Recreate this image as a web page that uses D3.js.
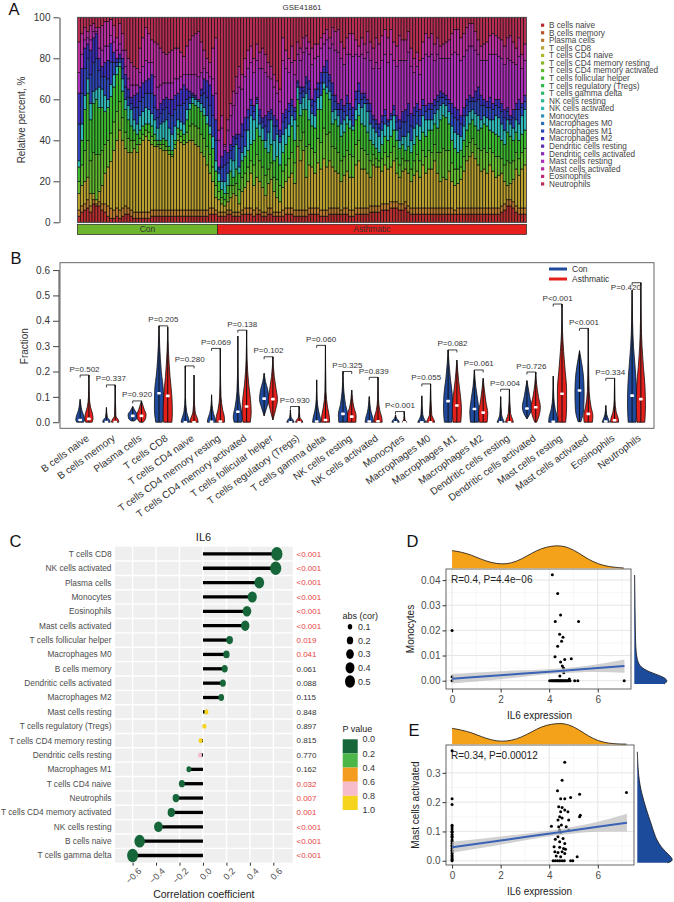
<!DOCTYPE html>
<html>
<head>
<meta charset="utf-8">
<script src="https://cdn.jsdelivr.net/npm/d3@7"></script>
<style>
  body { margin: 0; background: #fff; }
  svg { display: block; font-family: "Liberation Sans", Arial, Helvetica, sans-serif; }
</style>
</head>
<body>
<svg id="fig" width="674" height="902"></svg>
<script>
// ---------------- data ----------------
const cellTypes = ["B cells naive", "B cells memory", "Plasma cells", "T cells CD8", "T cells CD4 naive",
  "T cells CD4 memory resting", "T cells CD4 memory activated", "T cells follicular helper",
  "T cells regulatory (Tregs)", "T cells gamma delta", "NK cells resting", "NK cells activated",
  "Monocytes", "Macrophages M0", "Macrophages M1", "Macrophages M2", "Dendritic cells resting",
  "Dendritic cells activated", "Mast cells resting", "Mast cells activated", "Eosinophils", "Neutrophils"];

// cell types that carry visible share in the stacked bars (order = stack order)
const stackTypes = ["B cells naive", "Plasma cells", "T cells CD8", "T cells CD4 memory activated",
  "T cells follicular helper", "NK cells activated", "Macrophages M1", "Macrophages M2",
  "Mast cells resting", "Mast cells activated", "Neutrophils"];

// percent per sample, columns follow stackTypes
const conFractions = [
  [3,3,8,6,7,3,18,15,10,15,12], [5,3,10,10,12,8,15,12,7,10,8], [6,3,11,15,20,7,13,10,4,6,5], [7,4,11,18,23,7,10,7,3,3,7],
  [5,3,6,16,20,8,14,12,5,7,4], [9,2,3,20,24,6,14,12,3,4,3], [8,1,2,22,27,5,15,12,1,2,5], [8,2,5,18,23,10,8,6,5,10,5],
  [6,3,9,17,21,9,6,5,8,12,4], [5,4,15,14,16,8,9,7,8,12,2], [3,5,19,13,16,4,10,9,7,12,2], [2,5,23,14,18,6,11,9,4,8,1],
  [2,4,29,14,17,6,6,5,5,8,4], [3,4,33,14,18,4,2,2,4,6,10], [2,4,39,14,17,2,2,2,5,10,3], [3,4,33,11,13,6,5,5,4,8,8],
  [4,4,28,8,11,5,6,6,4,8,16], [4,3,27,7,9,7,4,4,5,10,20], [3,3,28,6,7,8,3,3,6,11,22], [2,3,31,4,5,5,6,6,5,9,24],
  [2,3,29,4,5,5,8,7,4,8,25], [2,3,33,3,4,7,7,7,7,12,15], [2,3,35,3,4,7,7,7,8,14,10], [2,3,37,3,3,8,7,6,10,16,5],
  [2,3,35,4,4,7,8,7,8,14,8], [3,3,32,4,5,6,10,9,6,11,11], [3,3,31,3,3,7,6,6,9,17,12], [3,3,31,1,2,6,5,4,11,21,13],
  [3,3,30,2,2,8,5,5,9,18,15], [3,3,29,3,3,8,6,5,8,15,17], [3,3,29,2,3,10,6,5,7,14,18], [3,3,27,2,2,9,7,7,8,15,17],
  [3,3,26,1,2,8,9,8,8,16,16], [3,3,30,2,2,7,8,7,8,15,15], [3,3,34,3,3,4,7,6,7,15,15], [3,3,33,3,3,4,8,8,6,12,17],
  [3,3,32,2,3,5,10,9,5,9,19], [3,3,33,5,6,5,5,5,7,14,14], [3,3,34,7,8,3,3,3,8,17,11], [3,3,34,8,10,3,1,1,9,19,9],
  [3,3,32,9,10,3,1,1,10,20,8], [3,3,31,9,10,3,1,0,11,22,7], [3,3,28,9,11,4,4,3,8,15,12], [3,3,26,9,11,4,7,7,5,9,16],
  [3,3,22,9,11,4,9,8,4,7,20], [4,3,17,9,10,4,10,10,4,7,22], [4,3,13,7,9,6,10,10,8,15,15], [4,2,6,6,7,5,10,10,13,27,10]
];
const asthmaFractions = [
  [3,2,6,4,5,4,2,1,13,5,55], [3,2,4,3,4,4,7,5,14,6,48], [3,2,3,3,3,6,8,7,2,1,62], [4,2,4,4,4,6,5,5,11,5,50],
  [4,2,6,6,7,6,4,3,14,6,42], [3,2,9,4,4,8,7,5,15,7,36], [3,2,8,6,7,12,3,2,20,8,29], [3,2,4,7,8,3,9,7,23,10,24],
  [4,2,9,7,8,4,8,6,17,7,28], [4,3,10,7,8,5,8,6,20,9,20], [4,3,13,7,8,10,6,4,20,9,16], [4,3,17,6,8,14,5,3,18,8,14],
  [3,3,12,10,12,10,4,3,16,7,20], [4,3,15,11,13,12,2,1,18,8,13], [4,2,14,10,12,6,4,3,20,8,17], [3,2,12,10,13,6,3,2,24,10,15],
  [3,2,8,10,13,4,7,5,21,9,18], [4,3,12,7,8,10,6,4,17,7,22], [4,3,14,8,9,12,3,2,15,6,24], [3,2,10,7,8,10,7,5,14,6,28],
  [3,2,7,9,11,11,4,3,13,6,31], [3,2,5,8,10,11,3,3,14,6,35], [3,3,11,8,9,9,6,4,26,11,10], [4,3,13,8,10,8,5,4,20,9,16],
  [4,3,15,9,11,6,6,4,15,7,20], [4,3,17,10,13,5,5,3,18,8,14], [3,3,13,10,11,10,4,2,16,7,21], [3,3,31,10,13,6,2,1,13,6,12],
  [3,3,24,10,12,6,5,3,13,6,15], [3,3,29,9,11,6,3,2,17,7,10], [3,3,16,15,18,8,5,3,14,6,9], [4,3,21,10,12,10,5,4,13,6,12],
  [4,3,20,9,11,6,4,3,17,8,15], [4,3,17,10,12,6,7,6,15,7,13], [4,3,22,12,14,6,4,3,13,6,13], [3,3,20,13,16,7,6,5,12,5,10],
  [3,3,25,15,19,3,5,3,11,5,8], [3,3,21,16,20,3,7,6,10,5,6], [4,3,23,14,16,4,5,3,13,5,10], [4,3,20,10,11,6,8,6,19,8,5],
  [4,3,18,11,14,5,4,3,22,9,7], [4,3,17,10,13,5,3,3,25,11,6], [4,2,14,10,12,6,7,5,20,8,12], [4,3,16,9,12,6,4,3,20,8,15],
  [4,3,18,10,13,4,6,4,20,8,10], [3,3,16,11,13,4,5,3,24,10,8], [3,3,16,10,13,2,5,4,25,11,8], [4,3,21,10,12,5,5,4,18,7,11],
  [4,3,23,10,12,6,6,4,13,5,14], [4,3,19,10,12,8,4,3,19,8,10], [4,3,19,9,12,11,3,2,17,7,13], [4,3,17,9,11,10,4,2,23,10,7],
  [5,3,14,8,10,8,6,4,21,9,12], [5,3,20,5,5,8,4,2,23,10,15], [5,3,19,4,5,8,4,2,28,12,10], [5,3,19,3,4,8,4,2,27,12,13],
  [6,3,16,6,7,7,4,3,27,12,9], [6,3,19,6,8,6,4,3,27,12,6], [6,3,17,6,8,7,2,1,28,12,10], [7,3,17,7,8,8,2,1,29,12,6],
  [7,3,20,7,8,7,3,2,22,9,12], [7,3,14,7,9,5,4,3,24,10,14], [6,3,13,6,8,4,6,4,29,12,9], [6,3,16,6,7,4,7,5,25,10,11],
  [7,3,16,4,5,7,7,6,24,10,11], [5,3,16,6,7,7,8,6,25,10,7], [4,3,13,6,8,6,7,6,23,9,15], [4,3,16,7,8,8,6,4,17,7,20],
  [4,3,18,8,9,6,6,4,18,7,17], [4,3,15,8,10,7,5,3,17,7,21], [4,3,21,7,9,8,5,3,20,8,12], [4,3,17,8,10,8,4,3,25,10,8],
  [4,3,19,9,10,5,5,3,23,9,10], [4,3,19,8,11,5,5,3,24,10,8], [4,3,23,8,10,5,4,3,19,8,13], [4,3,17,10,12,9,4,3,20,8,10],
  [4,3,13,14,16,7,4,3,16,6,14], [4,3,15,14,16,6,3,2,17,7,13], [4,3,14,14,16,6,3,2,18,8,12], [4,3,18,10,13,6,4,2,20,9,11],
  [4,3,13,9,11,7,6,5,24,10,8], [4,2,12,8,10,8,7,5,27,11,6], [4,3,12,7,8,9,7,5,27,12,6], [4,3,14,6,8,7,6,4,27,11,10],
  [4,3,18,7,8,7,5,4,25,11,8], [4,3,23,7,8,7,5,3,24,11,5], [4,3,25,7,9,6,5,3,24,11,3], [4,3,27,7,9,5,4,2,25,11,3],
  [4,3,24,7,9,6,6,5,20,9,7], [4,3,21,8,9,7,8,6,16,7,11], [4,3,18,10,11,4,7,5,17,7,14], [4,3,19,10,12,4,5,3,19,8,13],
  [4,3,17,10,13,4,5,3,20,9,12], [4,3,21,8,9,5,6,5,21,9,9], [4,3,18,9,10,6,5,3,24,10,8], [4,3,15,10,11,9,5,3,22,9,9],
  [4,3,16,9,10,9,5,4,21,9,10], [5,3,16,7,9,8,6,4,22,9,11], [6,3,11,8,10,7,6,4,22,9,14], [8,3,7,12,14,6,4,2,24,10,10],
  [8,3,8,10,13,6,2,2,27,12,9], [7,3,11,9,10,6,5,4,23,10,12], [5,3,18,8,10,6,5,3,19,8,15], [4,3,16,8,9,8,7,5,21,9,10],
  [4,3,19,8,9,9,4,2,17,7,18], [4,3,21,8,9,10,4,3,17,8,13]
];

// violin outlines: [fraction, relative half-width] from bottom to tip
const conViolins = [
  [[0,0.75],[0.01,0.95],[0.025,0.8],[0.045,0.4],[0.07,0.15],[0.09,0]],
  [[0,0.8],[0.008,0.7],[0.02,0.2],[0.058,0]],
  [[0.005,0.3],[0.015,0.9],[0.03,1],[0.045,0.5],[0.062,0]],
  [[0,0.7],[0.05,1],[0.12,0.95],[0.2,0.5],[0.3,0.15],[0.38,0]],
  [[0,0.9],[0.01,0.8],[0.04,0.3],[0.1,0.05],[0.222,0]],
  [[0,0.9],[0.01,0.85],[0.035,0.4],[0.07,0.1],[0.108,0]],
  [[0,0.8],[0.02,1],[0.06,0.6],[0.12,0.2],[0.22,0.05],[0.34,0]],
  [[0.025,0],[0.06,0.6],[0.09,1],[0.13,0.75],[0.16,0.3],[0.193,0]],
  [[0,0.8],[0.008,0.6],[0.02,0.15],[0.049,0]],
  [[0,0.9],[0.015,0.8],[0.045,0.4],[0.09,0.1],[0.167,0]],
  [[0,0.9],[0.03,1],[0.07,0.55],[0.12,0.2],[0.2,0]],
  [[0,0.9],[0.015,0.8],[0.04,0.4],[0.07,0.15],[0.101,0]],
  [[0,0.8],[0.005,0.7],[0.015,0.25],[0.029,0]],
  [[0,0.9],[0.01,0.6],[0.03,0.2],[0.104,0]],
  [[0,0.8],[0.05,1],[0.11,0.9],[0.17,0.5],[0.23,0.2],[0.285,0]],
  [[0,0.85],[0.04,1],[0.09,0.7],[0.14,0.3],[0.206,0]],
  [[0,0.8],[0.008,0.6],[0.03,0.2],[0.101,0]],
  [[0.013,0],[0.04,0.8],[0.06,1],[0.1,0.6],[0.164,0]],
  [[0,1],[0.02,0.9],[0.05,0.45],[0.1,0.12],[0.182,0]],
  [[0.002,0.3],[0.05,0.9],[0.12,1],[0.19,0.8],[0.24,0.4],[0.282,0]],
  [[0,0.8],[0.01,0.6],[0.03,0.2],[0.066,0]],
  [[0,0.85],[0.07,1],[0.15,0.9],[0.23,0.6],[0.3,0.3],[0.4,0.1],[0.521,0]]
];
const asthmaViolins = [
  [[0,0.7],[0.015,0.9],[0.035,0.75],[0.06,0.35],[0.1,0.1],[0.186,0]],
  [[0,0.8],[0.008,0.7],[0.025,0.15],[0.147,0]],
  [[0,0.4],[0.015,0.9],[0.03,1],[0.05,0.6],[0.084,0]],
  [[0,0.9],[0.04,1],[0.1,0.9],[0.18,0.5],[0.28,0.15],[0.374,0]],
  [[0,0.9],[0.01,0.8],[0.04,0.25],[0.1,0.05],[0.186,0]],
  [[0,0.9],[0.015,0.9],[0.05,0.5],[0.1,0.15],[0.2,0.03],[0.291,0]],
  [[0,0.8],[0.04,1],[0.09,0.85],[0.15,0.45],[0.25,0.1],[0.363,0]],
  [[0.009,0],[0.05,0.6],[0.09,1],[0.13,0.7],[0.18,0.3],[0.258,0]],
  [[0,0.8],[0.008,0.6],[0.02,0.15],[0.062,0]],
  [[0,0.9],[0.02,0.85],[0.06,0.45],[0.12,0.12],[0.303,0]],
  [[0,0.9],[0.025,0.95],[0.06,0.45],[0.127,0]],
  [[0,0.9],[0.015,0.85],[0.045,0.4],[0.09,0.1],[0.177,0]],
  [[0,0.5],[0.005,0.3],[0.015,0.1],[0.042,0]],
  [[0,0.9],[0.01,0.7],[0.03,0.25],[0.151,0]],
  [[0,0.85],[0.05,1],[0.1,0.8],[0.16,0.4],[0.2,0.2],[0.245,0]],
  [[0,0.85],[0.035,1],[0.08,0.6],[0.13,0.25],[0.173,0]],
  [[0,0.85],[0.01,0.7],[0.035,0.25],[0.13,0]],
  [[0,0.2],[0.03,0.8],[0.06,1],[0.1,0.6],[0.15,0.2],[0.198,0]],
  [[0,0.8],[0.06,1],[0.13,1],[0.2,0.7],[0.28,0.35],[0.36,0.1],[0.466,0]],
  [[0,0.9],[0.025,1],[0.06,0.6],[0.12,0.2],[0.25,0.05],[0.37,0]],
  [[0,0.9],[0.015,0.8],[0.04,0.35],[0.09,0.08],[0.173,0]],
  [[0,0.85],[0.06,1],[0.14,0.9],[0.22,0.55],[0.3,0.25],[0.4,0.08],[0.55,0]]
];
const conMedians = [0.009,0.001,0.025,0.114,0,0.002,0.041,0.093,0,0.003,0.033,0.003,0,0,0.083,0.052,0,0.054,0.002,0.125,0.003,0.105];
const asthmaMedians = [0.013,0.001,0.025,0.104,0,0.003,0.062,0.091,0,0.009,0.022,0.004,0,0,0.066,0.038,0,0.059,0.112,0.033,0.008,0.091];
const violinP = ["P=0.502","P=0.337","P=0.920","P=0.205","P=0.280","P=0.069","P=0.138","P=0.102","P=0.930","P=0.060",
  "P=0.325","P=0.839","P<0.001","P=0.055","P=0.082","P=0.061","P=0.004","P=0.726","P<0.001","P<0.001","P=0.334","P=0.420"];

// IL6 correlation lollipop
const corCells = ["T cells CD8","NK cells activated","Plasma cells","Monocytes","Eosinophils","Mast cells activated",
  "T cells follicular helper","Macrophages M0","B cells memory","Dendritic cells activated","Macrophages M2",
  "Mast cells resting","T cells regulatory (Tregs)","T cells CD4 memory resting","Dendritic cells resting",
  "Macrophages M1","T cells CD4 naive","Neutrophils","T cells CD4 memory activated","NK cells resting",
  "B cells naive","T cells gamma delta"];
const corValues = [0.63,0.62,0.48,0.42,0.375,0.36,0.227,0.2,0.185,0.17,0.156,0.029,0.012,-0.02,-0.025,-0.12,-0.18,-0.23,-0.27,-0.38,-0.54,-0.6];
const corP = ["<0.001","<0.001","<0.001","<0.001","<0.001","<0.001","0.019","0.041","0.061","0.088","0.115",
  "0.848","0.897","0.815","0.770","0.162","0.032","0.007","0.001","<0.001","<0.001","<0.001"];
const sizeLegend = [0.1,0.2,0.3,0.4,0.5];
const pBreaks = [0.0,0.2,0.4,0.6,0.8,1.0];

// IL6 expression vs Monocytes (D)
const monoPoints = [[4.13,0.0421],[4.35,0.0347],[4.47,0.0261],[4.25,0.0235],[5.21,0.0235],[0,0.02],[4.43,0.0185],
  [4.57,0.0173],[4.51,0.0157],[4.35,0.0137],[4.24,0.0095],[4.91,0.0087],[4.64,0.0084],[4.47,0.0074],[4.54,0.0058],
  [4.59,0.005],[4.6,0.0032],[4.44,0.0019],[0,0.0016],[4.83,0.0007],[0,0],[4.02,0],[4.08,0],[4.12,0],[4.16,0],[4.2,0],
  [4.24,0],[4.28,0],[4.31,0],[4.35,0],[4.38,0],[4.41,0],[4.45,0],[4.48,0],[4.52,0],[4.55,0],[4.6,0],[4.63,0],[4.67,0],
  [4.71,0],[4.75,0],[4.8,0],[4.86,0],[5.05,0],[5.18,0],[7.09,0]];
const monoFitX = [0,2,4.3,6,7.1];
const monoFit = [0.0008,0.0022,0.0038,0.005,0.0058];
const monoFitLo = [-0.0011,0.0006,0.0029,0.0035,0.0032];
const monoFitHi = [0.0027,0.0038,0.0047,0.0065,0.0084];
const il6DensX = [0,0.38,0.8,1.2,1.6,2.03,2.44,2.85,3.27,3.68,4.1,4.44,4.79,5.2,5.6,6.02,6.43,6.85,7.07];
const il6DensD = [0.177,0.163,0.133,0.09,0.057,0.04,0.05,0.09,0.15,0.2,0.223,0.227,0.21,0.157,0.09,0.043,0.017,0.007,0.003];
const monoDensY = [-0.0013,0,0.0016,0.0036,0.0055,0.0075,0.011,0.016,0.0265,0.042];
const monoDens = [0.88,1,0.85,0.41,0.18,0.1,0.053,0.035,0.024,0.009];

// IL6 expression vs Mast cells activated (E)
const mastPoints = [[0,0.375],[0,0.212],[0,0.192],[0,0.121],[0,0.115],[0,0.108],[0,0.101],[0,0.097],[0,0.09],[0,0.084],
  [0,0.079],[0,0.071],[0,0.066],[0,0.06],[0,0.053],[0,0.049],[0,0.042],[0,0.036],[0,0.031],[0,0.025],[0,0.018],[0,0.013],
  [0,0.007],[0,0.003],[0,0],[4.64,0.336],[4.53,0.275],[4.34,0.239],[5.25,0.227],[7.18,0.233],[4.47,0.212],[4.64,0.212],
  [4.88,0.216],[4.39,0.184],[4.53,0.182],[4.64,0.173],[4.47,0.167],[4.77,0.167],[5.25,0.15],[5.28,0.155],[4.43,0.15],
  [4.53,0.146],[4.36,0.139],[4.8,0.139],[4.09,0.118],[4.5,0.122],[4.7,0.116],[4.39,0.116],[4.43,0.105],[4.47,0.096],
  [4.8,0.105],[4.36,0.082],[4.57,0.076],[4.25,0.073],[4.43,0.065],[4.64,0.059],[4.2,0.048],[4.43,0.046],[4.59,0.042],
  [4.67,0.039],[4.23,0.031],[4.36,0.028],[4.53,0.031],[4.64,0.025],[4.29,0.016],[4.47,0.014],[5.15,0.014],[4.16,0],
  [4.25,0],[4.34,0],[4.43,0],[4.53,0],[4.62,0],[4.88,0],[4.97,0]];
const mastFitX = [0,2,4.2,6,7.2];
const mastFit = [0.046,0.069,0.095,0.116,0.13];
const mastFitLo = [0.027,0.055,0.085,0.099,0.1];
const mastFitHi = [0.065,0.083,0.105,0.133,0.16];
const il6DensX2 = [0,0.38,0.8,1.2,1.6,2.03,2.44,2.85,3.27,3.68,4.1,4.44,4.79,5.2,5.6,6.02,6.43,6.85,7.18];
const il6DensE = [0.16,0.143,0.117,0.077,0.043,0.027,0.037,0.07,0.123,0.177,0.203,0.21,0.2,0.15,0.083,0.033,0.01,0.003,0.002];
const mastDensY = [-0.007,-0.003,0.005,0.014,0.031,0.048,0.071,0.093,0.127,0.173,0.23,0.287,0.372];
const mastDens = [0.85,0.97,1,0.95,0.8,0.67,0.55,0.48,0.39,0.26,0.12,0.03,0];

// ---------------- helpers ----------------
const svg = d3.select('#fig');
svg.append('rect').attr('width', 674).attr('height', 902).attr('fill', '#fff');

function hsvColour(h, s, v) {
  const i = Math.floor(h * 6), f = h * 6 - i;
  const p = v * (1 - s), q = v * (1 - f * s), t = v * (1 - (1 - f) * s);
  const [r, g, b] = [[v, t, p], [q, v, p], [p, v, t], [p, q, v], [t, p, v], [v, p, q]][i % 6];
  return d3.rgb(r * 255, g * 255, b * 255).formatHex();
}
const cellColour = d3.scaleOrdinal().domain(cellTypes)
  .range(cellTypes.map((c, i) => hsvColour(i / cellTypes.length, 0.75, 0.72)));

function panelLetter(t, x, y) {
  svg.append('text').attr('x', x).attr('y', y).attr('font-size', 16.5).attr('fill', '#111').text(t);
}

// ---------------- A: stacked bars ----------------
const A = { left: 77.5, right: 526.5, top: 17.3, bottom: 222.3 };
const rows = conFractions.map(r => ({ group: 'Con', vals: r }))
  .concat(asthmaFractions.map(r => ({ group: 'Asthmatic', vals: r })))
  .map((s, i) => {
    const o = { id: i, group: s.group };
    stackTypes.forEach((k, j) => { o[k] = s.vals[j]; });
    return o;
  });
const series = d3.stack().keys(stackTypes).offset(d3.stackOffsetExpand)(rows);
const xA = d3.scaleBand().domain(rows.map(d => d.id)).range([A.left, A.right]);
const yA = d3.scaleLinear().domain([0, 1]).range([A.bottom, A.top]);
const yA100 = d3.scaleLinear().domain([0, 100]).range([A.bottom, A.top]);

const gA = svg.append('g');
gA.selectAll('g.layer').data(series).join('g')
  .attr('fill', d => cellColour(d.key))
  .selectAll('rect').data(d => d).join('rect')
  .attr('x', d => xA(d.data.id)).attr('width', xA.bandwidth())
  .attr('y', d => yA(d[1])).attr('height', d => yA(d[0]) - yA(d[1]))
  .attr('stroke', '#0d0d0d').attr('stroke-width', 0.65);
gA.append('rect').attr('x', A.left).attr('y', A.top).attr('width', A.right - A.left).attr('height', A.bottom - A.top)
  .attr('fill', 'none').attr('stroke', '#555').attr('stroke-width', 0.8);

gA.append('g').attr('transform', 'translate(59.5,0)')
  .call(d3.axisLeft(yA100).tickValues([0, 20, 40, 60, 80, 100]).tickSize(6).tickSizeOuter(0).tickPadding(3))
  .call(g => g.select('.domain').attr('stroke', '#444'))
  .call(g => g.selectAll('.tick line').attr('stroke', '#444'))
  .call(g => g.selectAll('text').attr('font-size', 10).attr('fill', '#333').attr('font-family', null));
gA.append('text').attr('transform', 'translate(25,120) rotate(-90)').attr('text-anchor', 'middle')
  .attr('font-size', 10).attr('fill', '#333').text('Relative percent, %');
gA.append('text').attr('x', 302).attr('y', 10).attr('text-anchor', 'middle').attr('font-size', 8)
  .attr('fill', '#333').text('GSE41861');

const groups = d3.groups(rows, d => d.group);
const groupFill = { Con: '#6cb52d', Asthmatic: '#e6201c' };
groups.forEach(([name, items]) => {
  const x0 = xA(items[0].id), x1 = xA(items[items.length - 1].id) + xA.bandwidth();
  gA.append('rect').attr('x', x0).attr('y', 224.3).attr('width', x1 - x0).attr('height', 10.2)
    .attr('fill', groupFill[name]).attr('stroke', '#222').attr('stroke-width', 0.7);
  gA.append('text').attr('x', (x0 + x1) / 2).attr('y', 229.5).attr('dy', '0.35em').attr('text-anchor', 'middle')
    .attr('font-size', 8.5).attr('fill', '#333').text(name);
});

const legA = gA.append('g');
cellTypes.forEach((c, i) => {
  const y = 25.2 + i * 7.56;
  legA.append('rect').attr('x', 541).attr('y', y - 1.6).attr('width', 3.2).attr('height', 3.2).attr('fill', cellColour(c));
  legA.append('text').attr('x', 549).attr('y', y).attr('dy', '0.35em').attr('font-size', 8.2).attr('fill', '#444').text(c);
});
panelLetter('A', 8.5, 15);

// ---------------- B: violins ----------------
const B = { left: 60, right: 654, top: 262.7, bottom: 428.3 };
const xB = d3.scaleLinear().domain([-1.3, 66.5]).range([B.left, B.right]);
const yB = d3.scaleLinear().domain([-0.024, 0.629]).range([B.bottom, B.top]);
const violinHalf = 4.6;
const gB = svg.append('g');
gB.append('rect').attr('x', B.left).attr('y', B.top).attr('width', B.right - B.left).attr('height', B.bottom - B.top)
  .attr('fill', 'none').attr('stroke', '#555').attr('stroke-width', 0.9);
gB.append('g').attr('transform', 'translate(59,0)')
  .call(d3.axisLeft(yB).tickValues([0, 0.1, 0.2, 0.3, 0.4, 0.5, 0.6]).tickFormat(d3.format('.1f')).tickSize(6).tickPadding(3))
  .call(g => g.select('.domain').remove())
  .call(g => g.selectAll('.tick line').attr('stroke', '#444'))
  .call(g => g.selectAll('text').attr('font-size', 10).attr('fill', '#333').attr('font-family', null));
gB.append('line').attr('x1', 59).attr('x2', 59).attr('y1', yB(0)).attr('y2', yB(0.6)).attr('stroke', '#444');
gB.append('text').attr('transform', 'translate(28,' + yB(0.3) + ') rotate(-90)').attr('text-anchor', 'middle')
  .attr('font-size', 10).attr('fill', '#333').text('Fraction');

function drawViolin(knots, cx, fill, med) {
  const area = d3.area().curve(d3.curveMonotoneY)
    .x0(d => cx - d[1] * violinHalf).x1(d => cx + d[1] * violinHalf).y(d => yB(d[0]));
  gB.append('path').attr('d', area(knots)).attr('fill', fill).attr('stroke', '#111').attr('stroke-width', 0.8);
  gB.append('line').attr('x1', cx).attr('x2', cx).attr('y1', yB(knots[0][0])).attr('y2', yB(knots[knots.length - 1][0]))
    .attr('stroke', '#111').attr('stroke-width', 1);
  gB.append('rect').attr('x', cx - 1.9).attr('y', yB(med) - 1.3).attr('width', 3.8).attr('height', 2.6)
    .attr('rx', 1).attr('fill', '#fff');
}

cellTypes.forEach((c, i) => {
  const xc = xB(3 * i + 1), xa = xB(3 * i + 2), mid = (xc + xa) / 2;
  drawViolin(conViolins[i], xc, '#1f4a9e', conMedians[i]);
  drawViolin(asthmaViolins[i], xa, '#e3201b', asthmaMedians[i]);
  const top = Math.max(conViolins[i][conViolins[i].length - 1][0], asthmaViolins[i][asthmaViolins[i].length - 1][0]);
  const yb = yB(top);
  gB.append('path').attr('d', `M${xc},${yb + 2.5}V${yb}H${xa}V${yb + 2.5}`)
    .attr('fill', 'none').attr('stroke', '#111').attr('stroke-width', 0.8);
  const nearLegend = mid > 540 && yb - 12 < 285;
  gB.append('text')
    .attr('x', nearLegend ? xa : mid).attr('y', nearLegend ? yb + 7 : yb - 3.5)
    .attr('text-anchor', nearLegend ? 'end' : 'middle')
    .attr('font-size', 8).attr('fill', '#333').text(violinP[i]);
  gB.append('text').attr('transform', `translate(${mid + 1},434) rotate(-36)`).attr('text-anchor', 'end')
    .attr('dy', '0.7em').attr('font-size', 10).attr('fill', '#333').text(c);
});
[['Con', '#1f4a9e', 269], ['Asthmatic', '#e3201b', 279]].forEach(([t, col, y]) => {
  gB.append('line').attr('x1', 549).attr('x2', 567).attr('y1', y).attr('y2', y).attr('stroke', col).attr('stroke-width', 3);
  gB.append('text').attr('x', 572).attr('y', y).attr('dy', '0.35em').attr('font-size', 8.5).attr('fill', '#333').text(t);
});
panelLetter('B', 10.5, 264);

// ---------------- C: lollipop ----------------
const C = { left: 115, right: 292.7, top: 546.7, bottom: 862.7 };
const xC = d3.scaleLinear().domain([-0.75, 0.765]).range([C.left, C.right]);
const yC = d3.scaleBand().domain(corCells).range([C.top, C.bottom]);
const rC = d3.scaleSqrt().domain([0, 0.5]).range([0, 5]);
const pColour = d3.scaleThreshold().domain([0.2, 0.4, 0.6, 0.8])
  .range(['#17663a', '#4cb748', '#f49c1f', '#f6bccb', '#f6d31c']);
const pNum = s => +s.replace('<', '');
const gC = svg.append('g');
gC.append('rect').attr('x', C.left).attr('y', C.top).attr('width', C.right - C.left).attr('height', C.bottom - C.top)
  .attr('fill', '#efefef');
const xTicksC = [-0.6, -0.4, -0.2, 0, 0.2, 0.4, 0.6];
gC.selectAll('line.vg').data(xTicksC).join('line')
  .attr('x1', d => xC(d)).attr('x2', d => xC(d)).attr('y1', C.top).attr('y2', C.bottom)
  .attr('stroke', '#fff').attr('stroke-width', 1.4);
gC.selectAll('line.hg').data(corCells.slice(1)).join('line')
  .attr('x1', C.left).attr('x2', C.right).attr('y1', d => yC(d)).attr('y2', d => yC(d))
  .attr('stroke', '#fff').attr('stroke-width', 1.4);
const bwC = yC.bandwidth();
corCells.forEach((c, i) => {
  const yc = yC(c) + bwC / 2, v = corValues[i];
  gC.append('line').attr('x1', xC(0)).attr('x2', xC(v)).attr('y1', yc).attr('y2', yc)
    .attr('stroke', '#000').attr('stroke-width', 3.3);
  const r = Math.max(2.1, rC(Math.abs(v)));
  gC.append('ellipse').attr('cx', xC(v)).attr('cy', yc).attr('rx', r).attr('ry', r * 1.22)
    .attr('fill', pColour(pNum(corP[i])));
  gC.append('text').attr('x', 111.5).attr('y', yc).attr('dy', '0.35em').attr('text-anchor', 'end')
    .attr('font-size', 8.3).attr('fill', '#4d4d4d').text(c);
  gC.append('text').attr('x', 296.5).attr('y', yc).attr('dy', '0.35em')
    .attr('font-size', 8).attr('fill', pNum(corP[i]) < 0.05 ? '#e8413c' : '#333').text(corP[i]);
});
gC.append('g').attr('transform', `translate(0,${C.bottom})`)
  .call(d3.axisBottom(xC).tickValues(xTicksC).tickFormat(d3.format('.1f')).tickSize(3).tickSizeOuter(0))
  .call(g => g.select('.domain').remove())
  .call(g => g.selectAll('.tick line').attr('stroke', '#333'))
  .call(g => g.selectAll('text').attr('font-size', 9).attr('fill', '#4d4d4d').attr('font-family', null)
    .attr('text-anchor', 'end').attr('transform', 'translate(3,3) rotate(-45)').attr('dy', '0.6em').attr('y', 3));
gC.append('text').attr('x', (C.left + C.right) / 2).attr('y', 898).attr('text-anchor', 'middle')
  .attr('font-size', 10.5).attr('fill', '#222').text('Correlation coefficient');
gC.append('text').attr('x', 203.5).attr('y', 540.5).attr('text-anchor', 'middle')
  .attr('font-size', 11).attr('fill', '#222').text('IL6');

gC.append('text').attr('x', 342.5).attr('y', 618.5).attr('font-size', 9).attr('fill', '#222').text('abs (cor)');
sizeLegend.forEach((v, i) => {
  const y = 626.7 + i * 13.7;
  const r = rC(v);
  gC.append('ellipse').attr('cx', 350).attr('cy', y).attr('rx', r).attr('ry', r * 1.25).attr('fill', '#000');
  gC.append('text').attr('x', 358).attr('y', y).attr('dy', '0.35em').attr('font-size', 9).attr('fill', '#333').text(v.toFixed(1));
});
gC.append('text').attr('x', 342.5).attr('y', 731.5).attr('font-size', 9).attr('fill', '#222').text('P value');
const yLegP = d3.scaleLinear().domain([0, 1]).range([739.3, 810]);
pBreaks.slice(0, -1).forEach((b, i) => {
  gC.append('rect').attr('x', 342.7).attr('y', yLegP(b)).attr('width', 15).attr('height', yLegP(pBreaks[i + 1]) - yLegP(b))
    .attr('fill', pColour(b + 0.01));
});
pBreaks.forEach(b => {
  gC.append('text').attr('x', 362.5).attr('y', yLegP(b)).attr('dy', '0.35em').attr('font-size', 9)
    .attr('fill', '#333').text(b.toFixed(1));
});
panelLetter('C', 9.5, 546.7);

// ---------------- D / E: scatter with marginal densities ----------------
function drawScatter(o) {
  const g = svg.append('g');
  const b = o.box;
  const x = d3.scaleLinear().domain(o.xDomain).range([b.left, b.right]);
  const y = d3.scaleLinear().domain(o.yDomain).range([b.bottom, b.top]);
  g.append('rect').attr('x', b.left).attr('y', b.top).attr('width', b.right - b.left).attr('height', b.bottom - b.top)
    .attr('fill', '#fff');
  const grid = g.append('g');
  [1, 3, 5, 7].filter(v => x(v) < b.right).forEach(v => grid.append('line').attr('x1', x(v)).attr('x2', x(v))
    .attr('y1', b.top).attr('y2', b.bottom).attr('stroke', '#f2f2f2').attr('stroke-width', 0.6));
  o.yMinor.forEach(v => grid.append('line').attr('y1', y(v)).attr('y2', y(v))
    .attr('x1', b.left).attr('x2', b.right).attr('stroke', '#f2f2f2').attr('stroke-width', 0.6));
  [0, 2, 4, 6].forEach(v => grid.append('line').attr('x1', x(v)).attr('x2', x(v))
    .attr('y1', b.top).attr('y2', b.bottom).attr('stroke', '#e3e3e3').attr('stroke-width', 0.9));
  o.yTicks.forEach(v => grid.append('line').attr('y1', y(v)).attr('y2', y(v))
    .attr('x1', b.left).attr('x2', b.right).attr('stroke', '#e3e3e3').attr('stroke-width', 0.9));

  g.selectAll('circle').data(o.points).join('circle')
    .attr('cx', d => x(d[0])).attr('cy', d => y(d[1])).attr('r', 1.5).attr('fill', '#000');
  const fitRows = o.fitX.map((v, i) => ({ x: v, fit: o.fit[i], lo: o.lo[i], hi: o.hi[i] }));
  g.append('path').attr('d', d3.area().curve(d3.curveMonotoneX).x(d => x(d.x)).y0(d => y(d.lo)).y1(d => y(d.hi))(fitRows))
    .attr('fill', '#bdbdbd').attr('opacity', 0.7);
  g.append('path').attr('d', d3.line().curve(d3.curveMonotoneX).x(d => x(d.x)).y(d => y(d.fit))(fitRows))
    .attr('fill', 'none').attr('stroke', '#3a62b5').attr('stroke-width', 2);
  g.append('rect').attr('x', b.left).attr('y', b.top).attr('width', b.right - b.left).attr('height', b.bottom - b.top)
    .attr('fill', 'none').attr('stroke', '#555').attr('stroke-width', 0.9);

  g.append('g').attr('transform', `translate(${b.left},0)`)
    .call(d3.axisLeft(y).tickValues(o.yTicks).tickFormat(d3.format(o.yFormat)).tickSize(3.5).tickPadding(2))
    .call(a => a.select('.domain').remove())
    .call(a => a.selectAll('.tick line').attr('stroke', '#333'))
    .call(a => a.selectAll('text').attr('font-size', 10).attr('fill', '#4d4d4d').attr('font-family', null));
  g.append('g').attr('transform', `translate(0,${b.bottom})`)
    .call(d3.axisBottom(x).tickValues([0, 2, 4, 6]).tickSize(3.5).tickPadding(3))
    .call(a => a.select('.domain').remove())
    .call(a => a.selectAll('.tick line').attr('stroke', '#333'))
    .call(a => a.selectAll('text').attr('font-size', 10).attr('fill', '#4d4d4d').attr('font-family', null));
  g.append('text').attr('x', x(3.6)).attr('y', b.bottom + 30).attr('text-anchor', 'middle')
    .attr('font-size', 10).attr('fill', '#222').text('IL6 expression');
  g.append('text').attr('transform', `translate(${o.yTitleX},${(b.top + b.bottom) / 2}) rotate(-90)`)
    .attr('text-anchor', 'middle').attr('font-size', 10).attr('fill', '#222').text(o.yTitle);
  g.append('text').attr('x', b.left + 5).attr('y', b.top + 13.5).attr('font-size', 10).attr('fill', '#222').text(o.stat);

  // top marginal density
  const base = b.top - 0.7;
  const hTop = d3.scaleLinear().domain([0, 0.227]).range([base, base - 22.7]);
  const topRows = o.densX.map((v, i) => [v, o.densTop[i]]);
  g.append('path').attr('d', d3.area().curve(d3.curveBasis).x(d => x(d[0])).y0(base).y1(d => hTop(d[1]))(topRows))
    .attr('fill', '#f5a21b');
  g.append('path').attr('d', d3.line().curve(d3.curveBasis).x(d => x(d[0])).y(d => hTop(d[1]))(topRows))
    .attr('fill', 'none').attr('stroke', '#111').attr('stroke-width', 0.8);
  // right marginal density
  const rx0 = b.right + 3.3;
  const wRight = d3.scaleLinear().domain([0, 1]).range([rx0, rx0 + o.rightMax]);
  const rightRows = o.rightY.map((v, i) => [v, o.rightD[i]]);
  g.append('path').attr('d', d3.area().curve(d3.curveBasis).y(d => y(d[0])).x0(rx0).x1(d => wRight(d[1]))(rightRows))
    .attr('fill', '#1d4b9b');
  g.append('path').attr('d', d3.line().curve(d3.curveBasis).y(d => y(d[0])).x(d => wRight(d[1]))(rightRows))
    .attr('fill', 'none').attr('stroke', '#111').attr('stroke-width', 0.8);
}

drawScatter({
  box: { left: 446, right: 631, top: 569, bottom: 689 },
  xDomain: [-0.25, 7.37], yDomain: [-0.0033, 0.0444],
  yTicks: [0, 0.01, 0.02, 0.03, 0.04], yMinor: [0.005, 0.015, 0.025, 0.035], yFormat: '.2f',
  points: monoPoints, fitX: monoFitX, fit: monoFit, lo: monoFitLo, hi: monoFitHi,
  densX: il6DensX, densTop: il6DensD, rightY: monoDensY, rightD: monoDens, rightMax: 34,
  yTitle: 'Monocytes', yTitleX: 414, stat: 'R=0.4, P=4.4e\u221206'
});
drawScatter({
  box: { left: 446, right: 634, top: 745, bottom: 865 },
  xDomain: [-0.25, 7.49], yDomain: [-0.0145, 0.395],
  yTicks: [0, 0.1, 0.2, 0.3], yMinor: [0.05, 0.15, 0.25, 0.35], yFormat: '.1f',
  points: mastPoints, fitX: mastFitX, fit: mastFit, lo: mastFitLo, hi: mastFitHi,
  densX: il6DensX2, densTop: il6DensE, rightY: mastDensY, rightD: mastDens, rightMax: 35.3,
  yTitle: 'Mast cells activated', yTitleX: 419, stat: 'R=0.34, P=0.00012'
});
panelLetter('D', 406.5, 546.7);
panelLetter('E', 408.5, 735.7);
</script>
</body>
</html>
